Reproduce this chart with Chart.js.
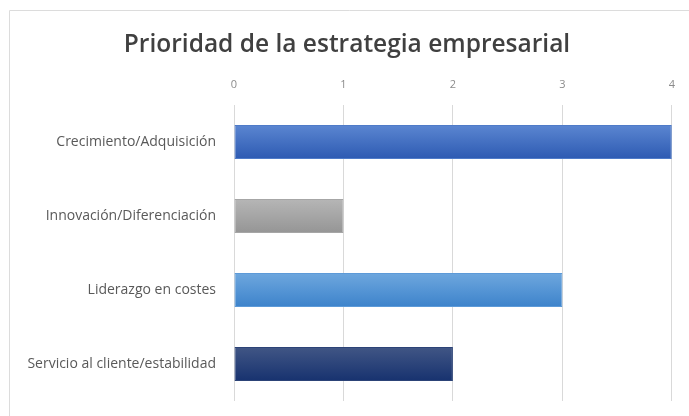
<!DOCTYPE html>
<html lang="es">
<head>
<meta charset="utf-8">
<title>Prioridad de la estrategia empresarial</title>
<script src="https://cdn.jsdelivr.net/npm/chart.js@4/dist/chart.umd.min.js"></script>
<style>
  html, body { margin: 0; padding: 0; background: #ffffff; }
  #wrap { position: relative; width: 689px; height: 416px; }
</style>
</head>
<body>
<div id="wrap"><canvas id="chart" width="689" height="416"></canvas></div>
<script>
// Strategy categories and their priority scores
const categories = [
  'Crecimiento/Adquisición',
  'Innovación/Diferenciación',
  'Liderazgo en costes',
  'Servicio al cliente/estabilidad'
];
const priorityValues = [4, 1, 3, 2];
const axisTicks = [0, 1, 2, 3, 4];

// Top / bottom colour stops of each bar's vertical gradient
const gradientTop = ['#5b86d1', '#b6b6b6', '#6ea7de', '#415685'];
const gradientBottom = ['#2d5ab2', '#959595', '#3d83cb', '#17326f'];
const borderColours = ['#4f7bc8', '#a6a6a6', '#5d9ad8', '#2c4377'];

const BAR_FRACTION = 0.46;

function barFill(ctx) {
  const chart = ctx.chart;
  const i = ctx.dataIndex;
  const yScale = chart.scales && chart.scales.y;
  if (!chart.chartArea || !yScale || i === undefined) return gradientTop[i] || '#4472c4';
  const centre = yScale.getPixelForValue(i);
  const half = (yScale.height / categories.length) * BAR_FRACTION / 2;
  const g = chart.ctx.createLinearGradient(0, centre - half, 0, centre + half);
  g.addColorStop(0, gradientTop[i]);
  g.addColorStop(1, gradientBottom[i]);
  return g;
}

// Light frame along the top and left of the chart container
const framePlugin = {
  id: 'frame',
  beforeDraw(chart) {
    const c = chart.ctx;
    c.save();
    c.strokeStyle = '#dcdcdc';
    c.lineWidth = 1;
    c.beginPath();
    c.moveTo(9.5, chart.height);
    c.lineTo(9.5, 10.5);
    c.lineTo(chart.width, 10.5);
    c.stroke();
    c.restore();
  }
};

new Chart(document.getElementById('chart'), {
  type: 'bar',
  data: {
    labels: categories,
    datasets: [{
      label: 'Prioridad',
      data: priorityValues,
      backgroundColor: barFill,
      borderColor: borderColours,
      borderWidth: 1,
      borderSkipped: false,
      categoryPercentage: 1,
      barPercentage: BAR_FRACTION
    }]
  },
  options: {
    indexAxis: 'y',
    responsive: false,
    animation: false,
    devicePixelRatio: 1,
    layout: { padding: { left: 20, right: 15, top: 0, bottom: 15 } },
    plugins: {
      legend: { display: false },
      tooltip: { enabled: false },
      title: {
        display: true,
        text: 'Prioridad de la estrategia empresarial',
        color: '#404040',
        font: { family: 'Open Sans', size: 24.5, weight: '600', lineHeight: 1.2 },
        padding: { top: 30, bottom: 0 }
      }
    },
    scales: {
      x: {
        position: 'top',
        min: 0,
        max: 4,
        afterBuildTicks(scale) {
          scale.ticks = axisTicks.map(v => ({ value: v }));
        },
        afterFit(scale) { scale.height = 45.6; },
        grid: { color: '#d9d9d9', lineWidth: 1, drawTicks: false },
        border: { display: false },
        ticks: {
          color: '#8c8c8c',
          padding: 14,
          font: { family: 'Open Sans', size: 11 }
        }
      },
      y: {
        afterFit(scale) {
          scale.width = 214;
          scale.paddingTop = 0;
          scale.paddingBottom = 0;
        },
        grid: { display: false, drawTicks: false },
        border: { display: false },
        ticks: {
          color: '#595959',
          padding: 18,
          font: { family: 'Open Sans', size: 14 }
        }
      }
    }
  },
  plugins: [framePlugin]
});
</script>
</body>
</html>
